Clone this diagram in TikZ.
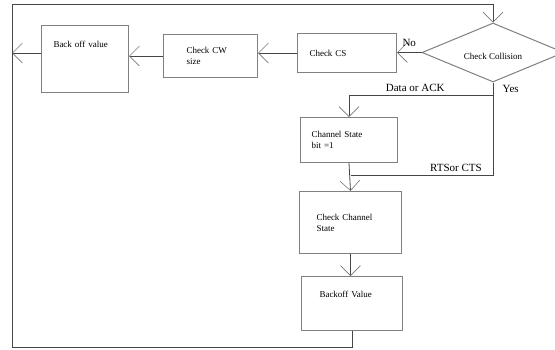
\documentclass[tikz,border=0pt]{standalone}
\usepackage{fontspec}
\setmainfont{Liberation Serif}
\usepackage{tikz}
\usetikzlibrary{arrows.meta,positioning,shapes.geometric}
\definecolor{boxline}{RGB}{128,128,128}
\definecolor{flowline}{RGB}{70,70,70}
\definecolor{tipline}{RGB}{120,120,120}

\begin{document}
\begin{tikzpicture}[x=1pt,y=-1pt,
  every node/.style={font=\fontsize{9}{11}\selectfont},
  box/.style={draw=boxline,line width=1pt,anchor=north west,align=left,
              inner ysep=0pt},
  dec/.style={draw=boxline,line width=1pt,diamond,aspect=2.4,inner sep=0pt,
              minimum width=142pt,minimum height=59pt},
  lbl/.style={font=\fontsize{11}{13}\selectfont},
  arr/.style={draw=flowline,line width=0.8pt,
              -{Straight Barb[length=10pt,width=20pt,line width=0.6pt,color=tipline]}},
  frame/.style={arr,line width=0.9pt},
  ]
  \useasboundingbox (0,0) rectangle (555,349);
  \clip (0,0) rectangle (555,349);

  %─── Top row ────────────────────────────────────────────────────────────────
  \node[box,minimum height=67pt,text width=63pt,inner xsep=12pt,text depth=29pt]
    (bof) at (41,25) {Back off value};

  \node[box,minimum height=43pt,text width=48pt,inner xsep=23pt]
    (cw) at (163,34) {Check CW\\size};

  \node[box,minimum height=39pt,text width=75pt,inner xsep=12pt]
    (cs) at (297,33) {Check CS};

  \node[dec,text height=13pt,text depth=0pt] (coll) at (493,52.5) {Check Collision};

  %─── Channel column ─────────────────────────────────────────────────────────
  \node[box,minimum height=45pt,text width=75pt,inner xsep=11pt]
    (chs) at (300,117) {Channel State\\bit =1};

  \node[box,minimum height=62pt,text width=68pt,inner xsep=17pt]
    (chk) at (299,191) {Check Channel\\State};

  \node[box,minimum height=54pt,text width=65pt,inner xsep=18pt,text depth=18pt]
    (bov) at (301,276) {Backoff Value};

  %─── Free ends ──────────────────────────────────────────────────────────────
  \coordinate (out) at (12,53);
  \coordinate (ll) at (12,347);
  \coordinate (ul) at (12,4);
  \coordinate[below=13pt of coll.south] (fork);
  \coordinate[above=16pt of chk.north] (merge);

  %─── No branch ──────────────────────────────────────────────────────────────
  \draw[arr] (coll.west) -- node[lbl,above=2pt] {No} (coll.west -| cs.east);
  \draw[arr] (cs.west) -- (cs.west -| cw.east);
  \draw[arr] (cw.west) -- (cw.west -| bof.east);
  \draw[arr] (bof.west |- out) -- (out);

  %─── Yes branch ─────────────────────────────────────────────────────────────
  \draw[draw=flowline,line width=0.8pt]
    (coll.south) -- node[lbl,right=6pt] {Yes} (fork);
  \draw[arr] (fork) -| node[lbl,pos=0.27,above] {Data or ACK} (chs.north);
  \draw[draw=flowline,line width=0.8pt]
    (fork) |- node[lbl,pos=0.63,above] {RTSor CTS} (merge);
  \draw[arr] (chs.south) -- (chk.north);
  \draw[arr] (chk.south) -- (chk.south |- bov.north);

  %─── Loop back to the collision check ───────────────────────────────────────
  \draw[frame] (bov.south) |- (ll) -- (ul) -| (coll.north);

\end{tikzpicture}
\end{document}
